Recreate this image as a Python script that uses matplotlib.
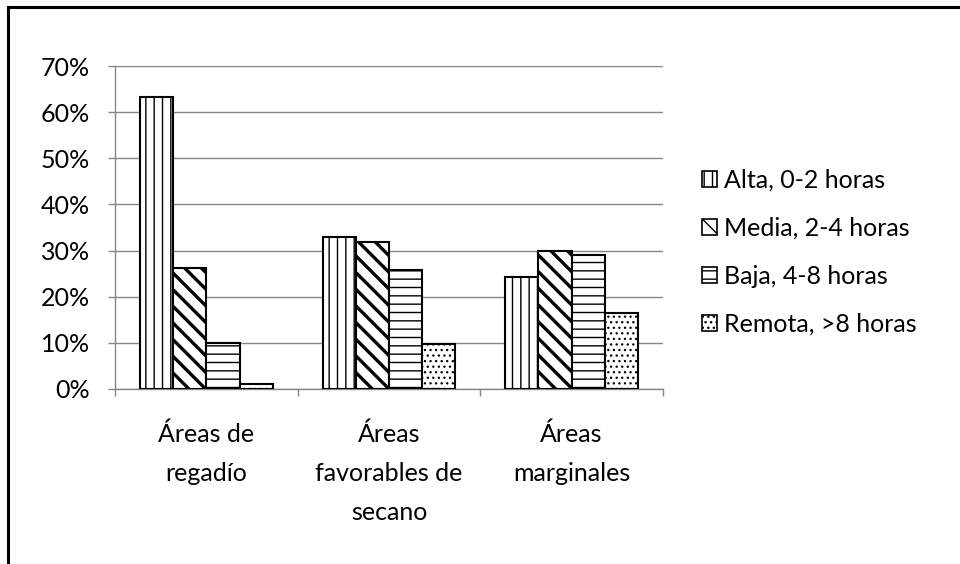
import matplotlib
matplotlib.use("Agg")
import matplotlib.pyplot as plt
from matplotlib.lines import Line2D
from matplotlib.ticker import FuncFormatter
import numpy as np

plt.rcParams['font.family'] = ['Lato', 'DejaVu Sans']

categories = ["Áreas de\nregadío", "Áreas\nfavorables de\nsecano", "Áreas\nmarginales"]
series_names = ["Alta, 0-2 horas", "Media, 2-4 horas", "Baja, 4-8 horas", "Remota, >8 horas"]
alta = [63.3, 33.0, 24.3]
media = [26.2, 31.9, 29.9]
baja = [9.9, 25.8, 29.1]
remota = [1.0, 9.8, 16.5]
series = [alta, media, baja, remota]
hatches = ['||', '\\\\', '--', '...']
hatch_lw = [1.0, 2.4, 1.0, 0.9]
yticks = [0, 10, 20, 30, 40, 50, 60, 70]

fig = plt.figure(figsize=(9.6, 5.64), dpi=100)
ax = fig.add_axes([115/960, 1-389/564, (663-115)/960, (389-66)/564])

gray = '#868686'
x = np.arange(len(categories))
w = 0.182
for i, (vals, h) in enumerate(zip(series, hatches)):
    with plt.rc_context({'hatch.linewidth': hatch_lw[i], 'hatch.color': 'black'}):
        bars = ax.bar(x + (i - 1.5) * w, vals, width=w, facecolor='white',
                      edgecolor='black', linewidth=1.5, hatch=h, label=series_names[i], zorder=3)
        for b in bars:
            if hasattr(b, 'set_hatch_linewidth'):
                b.set_hatch_linewidth(hatch_lw[i])

ax.set_xlim(-0.5, len(categories) - 0.5)
ax.set_ylim(0, 70)
ax.set_yticks(yticks)
ax.yaxis.set_major_formatter(FuncFormatter(lambda v, p: f"{int(v)}%"))
ax.grid(axis='y', color=gray, linewidth=1.0, zorder=0)
ax.set_axisbelow(True)
for s in ['top', 'right']:
    ax.spines[s].set_visible(False)
for s in ['left', 'bottom']:
    ax.spines[s].set_color(gray)
    ax.spines[s].set_linewidth(1.0)

ax.set_xticks(x)
ax.set_xticklabels(categories, fontsize=18, linespacing=1.85, color='black')
ax.tick_params(axis='x', which='major', length=0, pad=24)
ax.set_xticks(np.arange(-0.5, len(categories), 1.0), minor=True)
ax.tick_params(axis='x', which='minor', length=5, color=gray, width=1.0)
ax.tick_params(axis='y', length=5, color=gray, width=1.0, labelsize=18, pad=13)

with plt.rc_context({'hatch.linewidth': 1.0}):
    leg = ax.legend(loc='upper left', bbox_to_anchor=(702/960, 1-169/564),
                    bbox_transform=fig.transFigure, frameon=False, fontsize=18,
                    handlelength=0.6, handleheight=0.6, handletextpad=0.3,
                    labelspacing=1.0, borderpad=0, borderaxespad=0)
for p in leg.get_patches():
    p.set_linewidth(1.2)

fig.add_artist(Line2D([8/960, 8/960], [0, 1-7/564], transform=fig.transFigure,
                      color='black', linewidth=2.2, solid_capstyle='projecting'))
fig.add_artist(Line2D([8/960, 1], [1-7/564, 1-7/564], transform=fig.transFigure,
                      color='black', linewidth=2.2, solid_capstyle='projecting'))

fig.savefig("out.png", dpi=100)
